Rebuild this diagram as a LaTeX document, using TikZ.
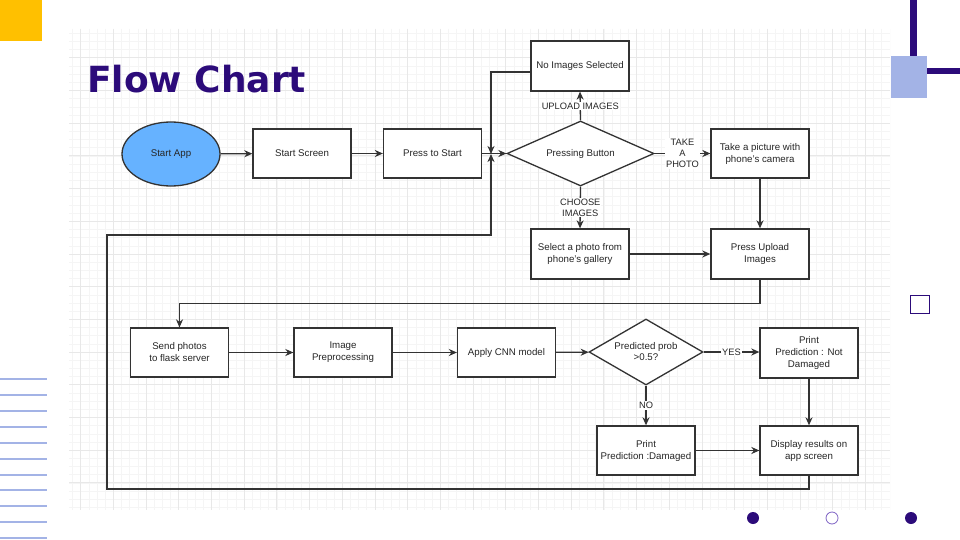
\documentclass[tikz,border=0pt]{standalone}
\usepackage{fontspec}
\setmainfont{Liberation Sans}
\newfontfamily\titlefont{DejaVu Sans}
\usetikzlibrary{shapes.geometric,arrows.meta}
\definecolor{deeppurple}{HTML}{2C0B7A}
\definecolor{lav}{HTML}{A3B3E6}
\definecolor{gold}{HTML}{FFC000}
\definecolor{linec}{HTML}{333333}
\definecolor{startblue}{HTML}{66B2FF}
\definecolor{ringpurple}{HTML}{7E62C4}
\tikzset{
  fc/.style={font=\fontsize{9.7}{12}\selectfont, text=black!85},
  box/.style={fc, draw=linec, line width=1.3pt, fill=white, minimum width=98pt, minimum height=49pt, inner sep=2pt, align=center},
  dia/.style={fc, draw=linec, line width=1.3pt, fill=white, diamond, aspect=2.2, inner sep=0pt, align=center},
  lbl/.style={font=\fontsize{9.3}{11}\selectfont, text=black!85, fill=white, inner sep=1pt, align=center},
  arr/.style={draw=linec, line width=1.3pt, -{Stealth[length=8pt,width=7pt,inset=2.5pt]}},
  minorgrid/.style={draw=black!4, line width=0.5pt},
  majorgrid/.style={draw=black!9, line width=0.7pt},
  lavline/.style={draw=lav, line width=2.2pt},
  dotfill/.style={fill=deeppurple, draw=none},
}
\begin{document}
\begin{tikzpicture}[x=1pt,y=-1pt]
\useasboundingbox (0,0) rectangle (960,540);
\fill[white] (0,0) rectangle (960,540);
% grid background
\begin{scope}
\clip (69,29) rectangle (890,510);
\foreach \i in {0,...,100} {\draw[minorgrid] ({72.4+8.175*\i},29) -- ({72.4+8.175*\i},510);}
\foreach \i in {0,...,58} {\draw[minorgrid] (69,{33.2+8.175*\i}) -- (890,{33.2+8.175*\i});}
\foreach \i in {0,...,24} {\draw[majorgrid] ({80.6+32.7*\i},29) -- ({80.6+32.7*\i},510);}
\foreach \i in {0,...,14} {\draw[majorgrid] (69,{25+32.7*\i}) -- (890,{25+32.7*\i});}
\end{scope}
% decorations
\fill[gold] (0,0) rectangle (42,41);
\fill[deeppurple] (910,0) rectangle (917,57);
\fill[lav] (891,56) rectangle (927,98);
\fill[deeppurple] (927,68) rectangle (960,74);
\draw[deeppurple, line width=1.8pt] (910.5,295.5) rectangle (929.5,313.5);
\foreach \yy in {379,395,411,427,443,459,475,490,506,522,538} {\draw[lavline] (0,\yy) -- (47,\yy);}
\fill[dotfill] (753,518) circle (6);
\draw[ringpurple, line width=0.8pt, fill=white] (832,518) circle (6);
\fill[dotfill] (911,518) circle (6);
% title
\node[anchor=base west, inner sep=0pt, text=deeppurple, font=\titlefont\bfseries\fontsize{36}{40}\selectfont] (title) at (87,93) {Flow Chart};
% nodes
\node[fc, ellipse, draw=linec, line width=1.3pt, fill=startblue, minimum width=98pt, minimum height=64pt, inner sep=0pt] (app) at (171,154) {Start App};
\node[box] (ss) at (302,153.5) {Start Screen};
\node[box] (pts) at (432.5,153.5) {Press to Start};
\node[dia, minimum width=147pt, minimum height=65pt] (pb) at (580.5,153.5) {Pressing Button};
\node[box, minimum height=50pt] (nis) at (580,66) {No Images Selected};
\node[box] (tp) at (760,153.5) {Take a picture with\\phone's camera};
\node[box, minimum height=50pt] (sel) at (580,254) {Select a photo from\\phone's gallery};
\node[box, minimum height=50pt] (pu) at (760,254) {Press Upload\\Images};
\node[box] (sp) at (179.5,352.5) {Send photos\\to flask server};
\node[box] (ip) at (343,352.5) {Image\\Preprocessing};
\node[box] (cnn) at (506.5,352.5) {Apply CNN model};
\node[dia, minimum width=114pt, minimum height=66pt] (pp) at (646,352) {Predicted prob\\[-1pt]\textgreater 0.5?};
\node[box, minimum height=50pt] (pnd) at (809,353) {Print\\Prediction : Not\\Damaged};
\node[box] (pd) at (646,450.5) {Print\\Prediction :Damaged};
\node[box] (dr) at (809,450.5) {Display results on\\app screen};
% helper coordinates
\coordinate (j) at (491,154);
\coordinate (lb) at (107,489);
\coordinate (lt) at (107,235);
% connectors
\draw[arr] (app) -- (ss);
\draw[arr] (ss) -- (pts);
\draw[arr] (pts.east) -- (pb.west);
\draw[arr] ([yshift=-6pt]nis.west) -| (j);
\draw[arr] (dr.south) |- (lb) -- (lt) -| (j);
\draw[arr] (pb.north) -- node[lbl] {UPLOAD IMAGES} (nis.south);
\draw[arr] (pb.east) -- node[lbl] {TAKE\\A\\PHOTO} (tp.west);
\draw[arr] (pb.south) -- node[lbl] {CHOOSE\\IMAGES} (sel.north);
\draw[arr] (tp.south) -- (pu.north);
\draw[arr] (sel.east) -- (pu.west);
\draw[arr] (pu.south) -- ++(0,24) -| (sp.north);
\draw[arr] (sp) -- (ip);
\draw[arr] (ip) -- (cnn);
\draw[arr] (cnn) -- (pp);
\draw[arr] (pp.east) -- node[lbl] {YES} (pnd.west |- pp.east);
\draw[arr] (pp.south) -- node[lbl] {NO} (pd.north);
\draw[arr] (pnd.south) -- (dr.north);
\draw[arr] (pd.east) -- (dr.west);
\end{tikzpicture}
\end{document}
